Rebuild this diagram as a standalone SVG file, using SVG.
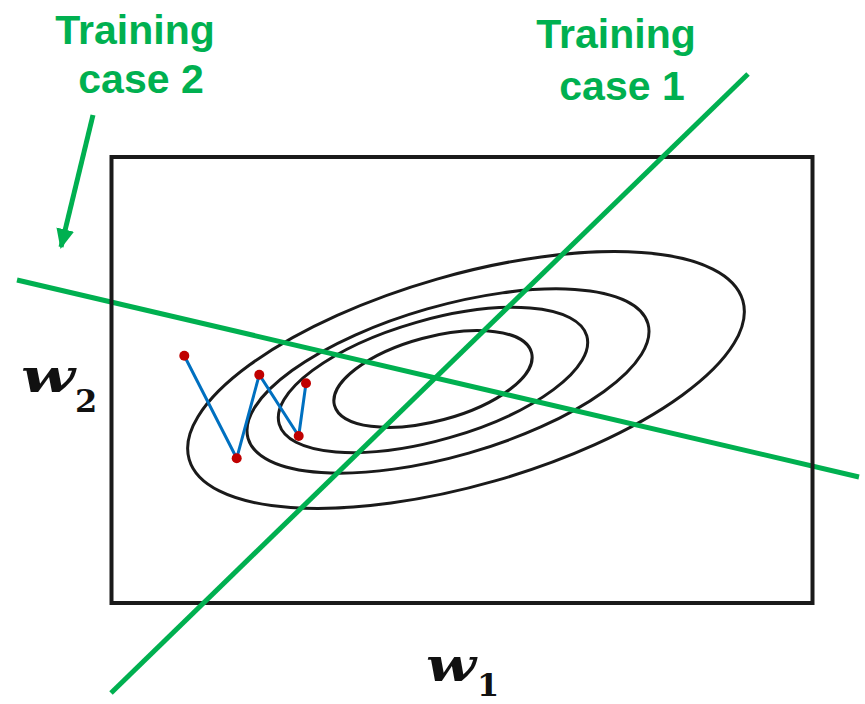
<svg xmlns="http://www.w3.org/2000/svg" width="865" height="704" viewBox="0 0 865 704">
<style>
.lbl{font-family:"Liberation Sans",Arial,sans-serif;font-weight:bold;font-size:41px;fill:#00b050;text-anchor:middle}
.ell{fill:none;stroke:#1a1a1a;stroke-width:3}
.grn{stroke:#00b050;stroke-width:5;fill:none}
.path{fill:none;stroke:#0070c0;stroke-width:3}
.dot{fill:#c00000}
.w{font-family:"DejaVu Serif","Liberation Serif",serif;font-weight:bold;font-style:italic;font-size:46px;fill:#111}
.sub{font-family:"DejaVu Serif","Liberation Serif",serif;font-weight:bold;font-size:32px;fill:#111}
</style>
<defs>
<marker id="ah" markerUnits="userSpaceOnUse" markerWidth="20" markerHeight="20" viewBox="0 0 20 20" refX="18" refY="10" orient="auto">
<path d="M0,1 L20,10 L0,19 Z" fill="#00b050"/>
</marker>
</defs>
<g id="contours">
<ellipse class="ell" cx="466" cy="380" rx="288" ry="105" transform="rotate(-16 466 380)"/>
<ellipse class="ell" cx="448" cy="381" rx="208" ry="75" transform="rotate(-16 448 381)"/>
<ellipse class="ell" cx="433" cy="380" rx="160" ry="60" transform="rotate(-16 433 380)"/>
<ellipse class="ell" cx="433" cy="379" rx="102" ry="42" transform="rotate(-15 433 379)"/>
</g>
<g id="case2-line"><line class="grn" x1="17" y1="280" x2="859" y2="477"/></g>
<g id="frame"><rect x="111.5" y="157" width="701" height="446" fill="none" stroke="#1a1a1a" stroke-width="4"/></g>
<g id="case1-line"><line class="grn" x1="748" y1="74" x2="111" y2="693"/></g>
<g id="connectors">
<line class="grn" x1="93" y1="115" x2="61" y2="247" stroke-width="4.5" marker-end="url(#ah)"/>
<polyline class="path" points="184.3,355.7 236.7,458.3 259.3,374.7 298.7,436 306,383.3"/>
</g>
<g id="steps">
<circle class="dot" cx="184.3" cy="355.7" r="5"/>
<circle class="dot" cx="236.7" cy="458.3" r="5"/>
<circle class="dot" cx="259.3" cy="374.7" r="5"/>
<circle class="dot" cx="298.7" cy="436" r="5"/>
<circle class="dot" cx="306" cy="383.3" r="5"/>
</g>
<g id="label-case2">
<text class="lbl" x="135" y="44">Training</text>
<text class="lbl" x="141" y="93">case 2</text>
</g>
<g id="label-case1">
<text class="lbl" x="616" y="48">Training</text>
<text class="lbl" x="622" y="100">case 1</text>
</g>
<g id="axis-w2">
<text class="w" x="21" y="392" textLength="54" lengthAdjust="spacingAndGlyphs">w</text>
<text class="sub" x="75" y="412">2</text>
</g>
<g id="axis-w1">
<text class="w" x="426" y="681" textLength="50" lengthAdjust="spacingAndGlyphs">w</text>
<text class="sub" x="477" y="696">1</text>
</g>
</svg>
